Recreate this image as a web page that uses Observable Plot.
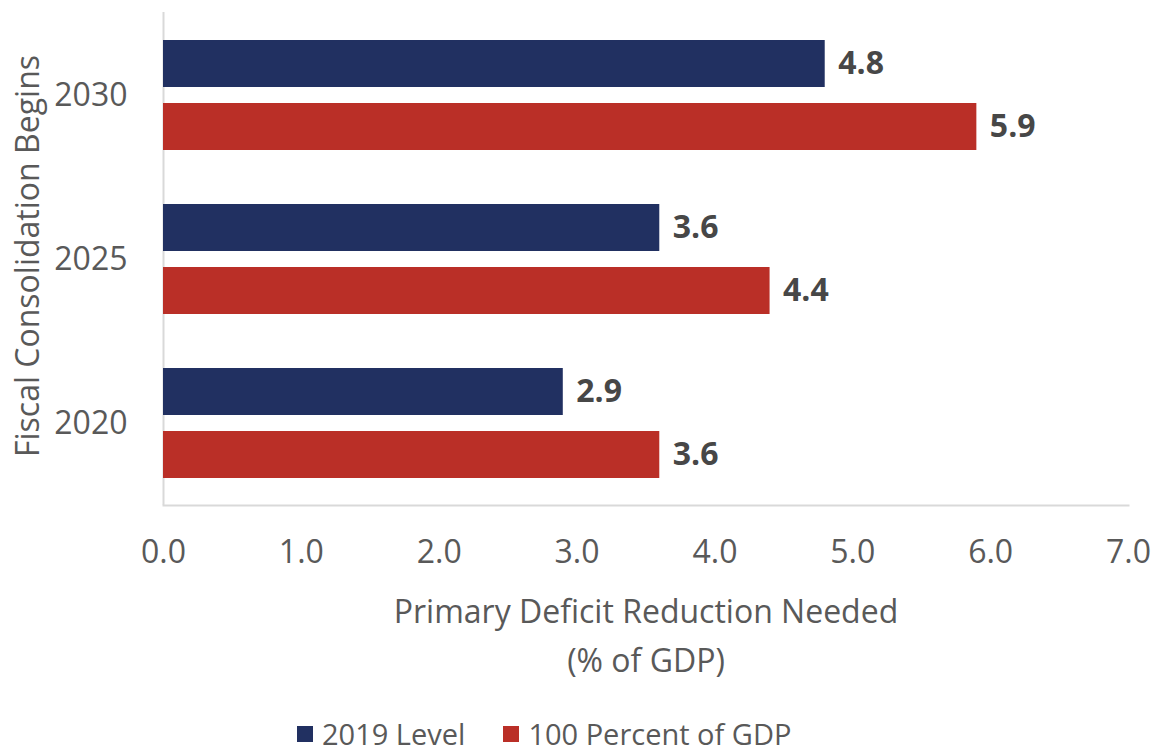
<!DOCTYPE html>
<html>
<head>
<meta charset="utf-8">
<script src="https://cdn.jsdelivr.net/npm/d3@7"></script>
<script src="https://cdn.jsdelivr.net/npm/@observablehq/plot@0.6"></script>
<style>
  html, body { margin: 0; padding: 0; background: #fff; }
  #wrap { width: 1155px; font-family: "Open Sans", sans-serif; }
  #legend { display: flex; align-items: center; margin-top: 29px; padding-left: 297px; font-size: 29px; color: #595959; height: 30px; line-height: 30px; }
  #legend .item { display: flex; align-items: center; margin-right: 38px; }
  #legend .sw { width: 16px; height: 16px; margin-right: 9px; }
</style>
</head>
<body>
<div id="wrap"></div>
<script>
const years = ["2030", "2025", "2020"];
const level2019 = [4.8, 3.6, 2.9];
const pct100 = [5.9, 4.4, 3.6];
const seriesNames = ["2019 Level", "100 Percent of GDP"];
const seriesColors = ["#213061", "#BA2F27"];
const xTicks = [0, 1, 2, 3, 4, 5, 6, 7];
const xTitle = "Primary Deficit Reduction Needed\n(% of GDP)";
const yTitle = "Fiscal Consolidation Begins";

const rows = years.flatMap((y, i) => [
  {year: y, series: seriesNames[0], value: level2019[i]},
  {year: y, series: seriesNames[1], value: pct100[i]}
]);
const rowsA = rows.filter(d => d.series === seriesNames[0]);
const rowsB = rows.filter(d => d.series === seriesNames[1]);

const chart = Plot.plot({
  width: 1155,
  height: 690,
  marginLeft: 163,
  marginRight: 27,
  marginTop: 12,
  marginBottom: 185,
  style: {fontFamily: "Open Sans, sans-serif", fontSize: "32px", color: "#595959", background: "#fff"},
  x: {domain: [0, 7], ticks: xTicks, tickFormat: d3.format(".1f")},
  y: {domain: years, paddingInner: 0.33, paddingOuter: 0.165},
  color: {domain: seriesNames, range: seriesColors},
  marks: [
    Plot.frame({anchor: "bottom", stroke: "#D9D9D9", strokeWidth: 2}),
    Plot.ruleX([0], {stroke: "#D9D9D9", strokeWidth: 2}),
    Plot.barX(rowsA, {x: "value", y: "year", fill: "series", insetBottom: 63}),
    Plot.barX(rowsB, {x: "value", y: "year", fill: "series", insetTop: 63}),
    Plot.text(rowsA, {x: "value", y: "year", text: d => d.value.toFixed(1), dx: 13, dy: -31.5, textAnchor: "start", fontWeight: "bold", fill: "#474747", fontSize: 32}),
    Plot.text(rowsB, {x: "value", y: "year", text: d => d.value.toFixed(1), dx: 13, dy: 31.5, textAnchor: "start", fontWeight: "bold", fill: "#474747", fontSize: 32}),
    Plot.axisX({ticks: xTicks, tickFormat: d3.format(".1f"), tickSize: 0, tickPadding: 35, label: null, fontSize: 32}),
    Plot.axisY({tickSize: 0, tickPadding: 36, label: null, fontSize: 32}),
    Plot.text([yTitle], {frameAnchor: "left", rotate: -90, dx: -135, dy: -3, textAnchor: "middle", lineAnchor: "middle", fontSize: 32, fill: "#595959"}),
    Plot.text([xTitle], {frameAnchor: "bottom", dy: 126, textAnchor: "middle", lineAnchor: "middle", lineHeight: 1.53, fontSize: 32, fill: "#595959"})
  ]
});

const wrap = document.getElementById("wrap");
wrap.appendChild(chart);

const legend = document.createElement("div");
legend.id = "legend";
seriesNames.forEach((name, i) => {
  const item = document.createElement("div");
  item.className = "item";
  const sw = document.createElement("div");
  sw.className = "sw";
  sw.style.background = seriesColors[i];
  const label = document.createElement("span");
  label.textContent = name;
  item.appendChild(sw);
  item.appendChild(label);
  legend.appendChild(item);
});
wrap.appendChild(legend);
</script>
</body>
</html>
